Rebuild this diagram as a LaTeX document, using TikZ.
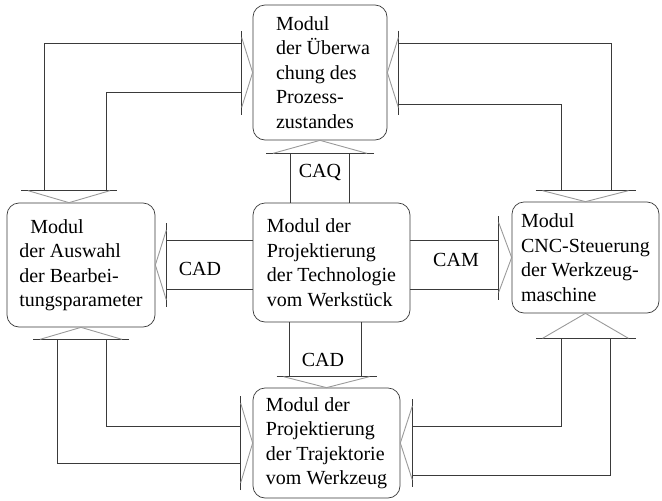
\documentclass[tikz,border=0pt]{standalone}
\usepackage{fontspec}
\setmainfont{Liberation Serif}
\usetikzlibrary{calc}

\definecolor{inkline}{HTML}{3A3A3A}
\definecolor{headgray}{HTML}{9A9A9A}

\begin{document}
\begin{tikzpicture}[x=1pt,y=1pt,
  modbox/.style={draw=inkline, line width=0.7pt, rounded corners=12pt,
    align=left, inner sep=0pt,
    font=\fontsize{20}{24.5}\selectfont},
  shaft/.style={draw=inkline, line width=0.8pt},
  barline/.style={draw=inkline, line width=1pt},
  headline/.style={draw=headgray, line width=0.9pt},
  lbl/.style={font=\fontsize{20}{24}\selectfont, inner sep=0pt},
  head half/.store in=\bhHalf, head half=48,
  head depth/.store in=\bhDepth, head depth=12,
  bhead/.pic={
    \draw[barline] (-\bhHalf,\bhDepth) -- (\bhHalf,\bhDepth);
    \draw[headline] ({-\bhHalf+7},\bhDepth) -- (0,0) -- ({\bhHalf-7},\bhDepth);
  }]

\useasboundingbox (0,0) rectangle (662,-501);

% modules
\node[modbox, minimum width=134pt, minimum height=135pt] (T) at (320,-72.5)
  {\hspace*{6pt}Modul\\\hspace*{6pt}der Überwa\\\hspace*{6pt}chung des\\\hspace*{6pt}Prozess-\\\hspace*{6pt}zustandes};
\node[modbox, minimum width=148pt, minimum height=124pt] (L) at (81,-265)
  {\hspace*{11pt}Modul\\der Auswahl\\der Bearbei-\\tungsparameter};
\node[modbox, minimum width=157pt, minimum height=119pt] (C) at (331.5,-262.5)
  {Modul der\\Projektierung\\der Technologie\\vom Werkstück};
\node[modbox, minimum width=147pt, minimum height=111pt] (R) at (585.5,-257.5)
  {Modul\\CNC-Steuerung\\der Werkzeug-\\maschine};
\node[modbox, minimum width=147pt, minimum height=110pt] (B) at (326.5,-443)
  {Modul der\\Projektierung\\der Trajektorie\\vom Werkzeug};

% bar ends of the block arrows
\coordinate (q1) at (290,-153);  \coordinate (q2) at (349,-153);
\coordinate (d1) at (166,-240);  \coordinate (d2) at (166,-289);
\coordinate (m1) at (499,-240);  \coordinate (m2) at (499,-289);
\coordinate (e1) at (289,-377);  \coordinate (e2) at (361,-377);

\coordinate (lt1) at (44,-191);  \coordinate (lt2) at (242,-43);
\coordinate (lt3) at (106,-191); \coordinate (lt4) at (242,-92);
\coordinate (rt1) at (611,-191); \coordinate (rt2) at (398,-43);
\coordinate (rt3) at (561,-191); \coordinate (rt4) at (398,-104);
\coordinate (lb1) at (106,-339); \coordinate (lb2) at (241,-426);
\coordinate (lb3) at (57,-339);  \coordinate (lb4) at (241,-463);
\coordinate (rb1) at (561,-338); \coordinate (rb2) at (412,-426);
\coordinate (rb3) at (610,-338); \coordinate (rb4) at (412,-475);

% shafts from the central module
\draw[shaft] (q1 |- C.north) -- (q1);
\draw[shaft] (q2 |- C.north) -- (q2);
\draw[shaft] (d1 -| C.west) -- (d1);
\draw[shaft] (d2 -| C.west) -- (d2);
\draw[shaft] (m1 -| C.east) -- (m1);
\draw[shaft] (m2 -| C.east) -- (m2);
\draw[shaft] (e1 |- C.south) -- (e1);
\draw[shaft] (e2 |- C.south) -- (e2);

% shafts around the outside
\draw[shaft] (lt1) |- (lt2);
\draw[shaft] (lt3) |- (lt4);
\draw[shaft] (rt1) |- (rt2);
\draw[shaft] (rt3) |- (rt4);
\draw[shaft] (lb1) |- (lb2);
\draw[shaft] (lb3) |- (lb4);
\draw[shaft] (rb1) |- (rb2);
\draw[shaft] (rb3) |- (rb4);

% arrow heads with their bars
\pic[rotate=180, head half=54, head depth=13] at (T.south) {bhead};
\pic[rotate=-90, head half=42, head depth=11] at (L.east) {bhead};
\pic[rotate=90,  head half=42, head depth=13] at (R.west) {bhead};
\pic[rotate=0,   head half=50, head depth=11] at (B.north) {bhead};

\pic[rotate=0,   head half=48, head depth=12] at ([xshift=-12pt]L.north) {bhead};
\pic[rotate=90,  head half=42, head depth=11] at (T.west) {bhead};
\pic[rotate=-90, head half=42, head depth=11] at (T.east) {bhead};
\pic[rotate=0,   head half=50, head depth=11] at (R.north) {bhead};
\pic[rotate=180, head half=48, head depth=12] at (L.south) {bhead};
\pic[rotate=90,  head half=47, head depth=12] at (B.west) {bhead};
\pic[rotate=180, head half=50, head depth=25] at (R.south) {bhead};
\pic[rotate=-90, head half=44, head depth=12] at (B.east) {bhead};

% shaft labels
\node[lbl] (caq) at (320,-172) {CAQ};
\node[lbl] (cadl) at (200,-269) {CAD};
\node[lbl] (cam) at (456,-260) {CAM};
\node[lbl] (cadb) at (323,-360) {CAD};

\end{tikzpicture}
\end{document}
